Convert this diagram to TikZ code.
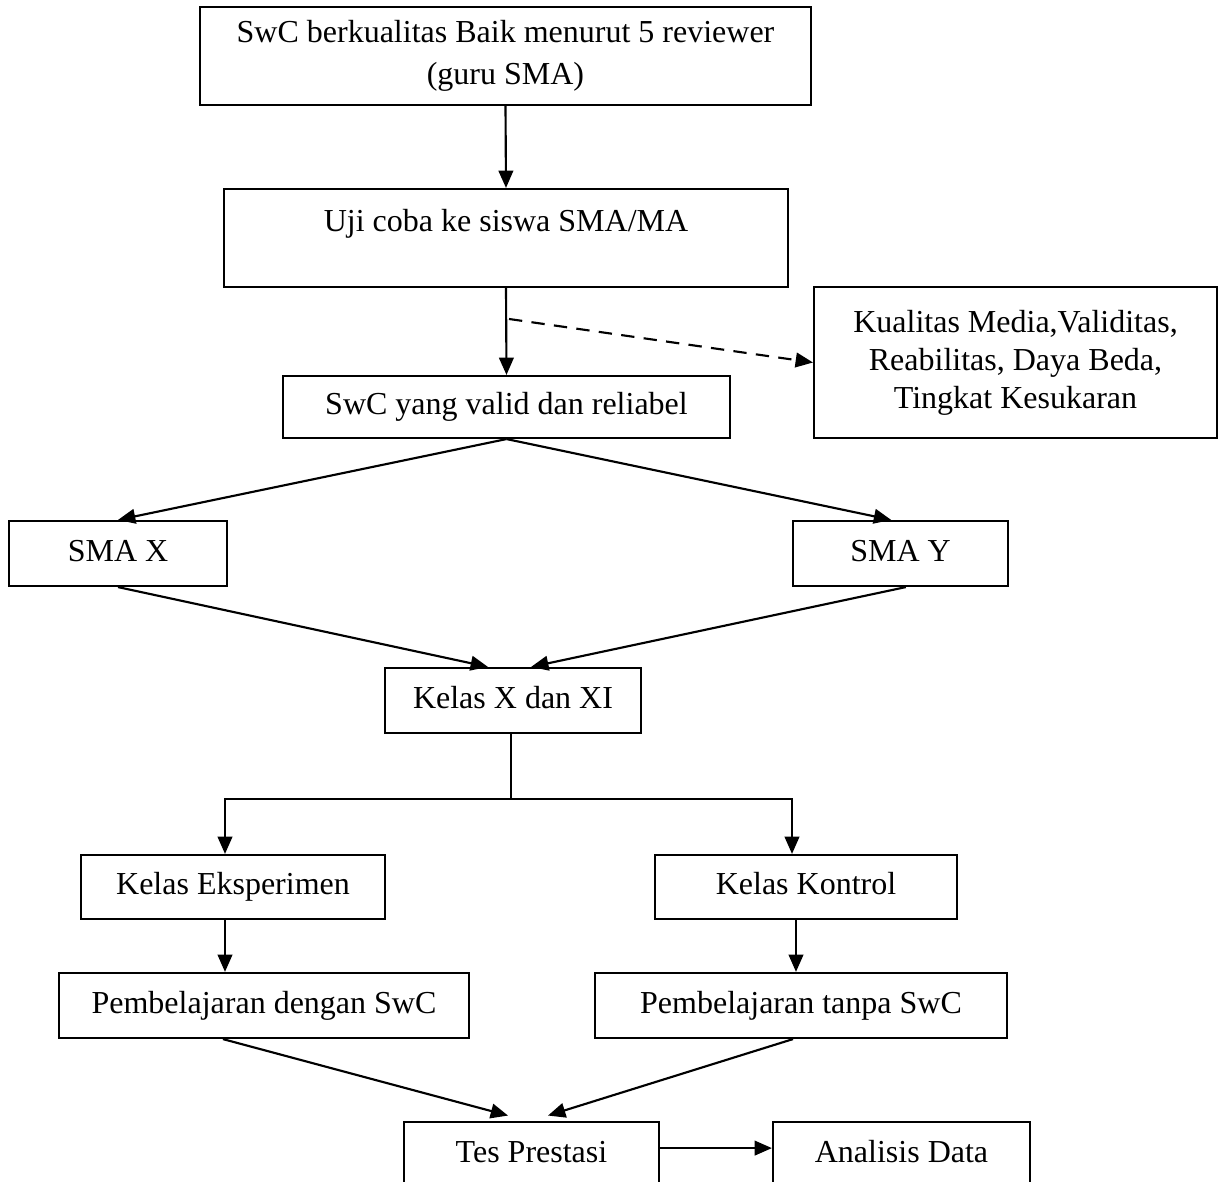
\documentclass[tikz,border=0pt]{standalone}
\usepackage{fontspec}
\setmainfont{Liberation Serif}
\usetikzlibrary{arrows.meta}

\begin{document}
\begin{tikzpicture}[x=0.375pt, y=-0.375pt,
  kotak/.style={draw, line width=0.8pt, inner sep=0pt, align=center, font=\fontsize{12}{14}\selectfont},
  satu/.style={kotak, text height=8.5pt, text depth=2.5pt, minimum height=24.4pt},
  panah/.style={line width=0.8pt, -{Triangle[length=6.5pt,width=5.5pt]}}]
\useasboundingbox (0,0) rectangle (1219,1182);
% uji coba
\node[kotak, minimum width=229pt, minimum height=36.75pt, font=\fontsize{12}{16}\selectfont] (baik) at (505.5,56) {SwC berkualitas Baik menurut 5 reviewer\\(guru SMA)};
\node[kotak, minimum width=211.5pt, minimum height=36.75pt, text height=8.5pt, text depth=13.5pt] (uji) at (506,238) {Uji coba ke siswa SMA/MA};
\node[satu, minimum width=167.6pt, minimum height=23.25pt] (valid) at (506.5,407) {SwC yang valid dan reliabel};
\node[kotak, minimum width=151.1pt, minimum height=56.6pt, font=\fontsize{12}{14.3}\selectfont] (kualitas) at (1015.5,362.5) {Kualitas Media,Validitas,\\Reabilitas, Daya Beda,\\Tingkat Kesukaran};
\coordinate (cabang) at (509,319);
\draw[panah] (baik.south) -- (uji.north);
\draw[panah] (uji.south) -- (valid.north);
\draw[panah, dash pattern=on 5pt off 3.5pt] (cabang) -- (kualitas.west);
% sekolah
\node[satu, minimum width=81.75pt] (smax) at (118,553.5) {SMA X};
\node[satu, minimum width=80.6pt] (smay) at (900.5,553.5) {SMA Y};
\node[satu, minimum width=96pt] (kelas) at (513,700.5) {Kelas X dan XI};
\draw[panah] (valid.south) -- (smax.north);
\draw[panah] (valid.south) -- ([xshift=-3.5pt]smay.north);
\draw[panah] (smax.south) -- ([xshift=-9.4pt]kelas.north);
\draw[panah] ([xshift=2pt]smay.south) -- ([xshift=6.8pt]kelas.north);
% kelas
\node[satu, minimum width=114pt, minimum height=24pt] (eksp) at (233,887) {Kelas Eksperimen};
\node[satu, minimum width=113.25pt, minimum height=24pt] (kontrol) at (806,887) {Kelas Kontrol};
\coordinate (bagi) at (511,799);
\draw[line width=0.8pt] ([xshift=-0.75pt]kelas.south) -- (bagi);
\draw[panah] (bagi) -| ([xshift=-3pt]eksp.north);
\draw[panah] (bagi) -| ([xshift=-5.25pt]kontrol.north);
\node[satu, minimum width=153.75pt] (dengan) at (264,1005.5) {Pembelajaran dengan SwC};
\node[satu, minimum width=154.5pt] (tanpa) at (801,1005.5) {Pembelajaran tanpa SwC};
\draw[panah] ([xshift=-3pt]eksp.south) -- ([xshift=-3pt]eksp.south |- dengan.north);
\draw[panah] ([xshift=-3.75pt]kontrol.south) -- ([xshift=-3.75pt]kontrol.south |- tanpa.north);
% tes
\node[satu, minimum width=95.6pt] (tes) at (531.5,1154.5) {Tes Prestasi};
\node[satu, minimum width=96.4pt] (analisis) at (901.5,1154.5) {Analisis Data};
\draw[panah] ([xshift=-15.4pt]dengan.south) -- ([xshift=-8.8pt, yshift=2pt]tes.north);
\draw[panah] ([xshift=-3pt]tanpa.south) -- ([xshift=6.2pt, yshift=2pt]tes.north);
\draw[panah] ([yshift=2.4pt]tes.east) -- ([yshift=2.4pt]analisis.west);
\end{tikzpicture}
\end{document}
